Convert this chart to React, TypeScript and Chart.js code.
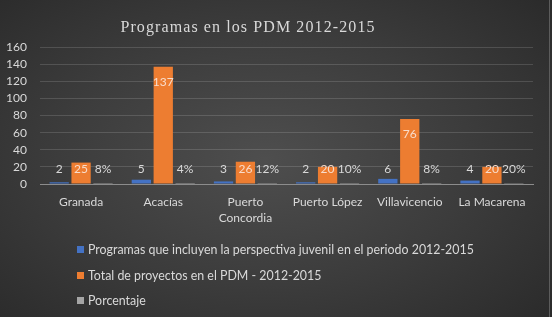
import React, { useEffect, useRef } from "react";
import { Chart, registerables } from "chart.js";

Chart.register(...registerables);

const categories: (string | string[])[] = [
  "Granada",
  "Acacías",
  ["Puerto", "Concordia"],
  "Puerto López",
  "Villavicencio",
  "La Macarena",
];
const programasJuveniles = [2, 5, 3, 2, 6, 4];
const totalProyectos = [25, 137, 26, 20, 76, 20];
const porcentaje = [0.08, 0.04, 0.12, 0.1, 0.08, 0.2];
const yTicks = [0, 20, 40, 60, 80, 100, 120, 140, 160];

const seriesNames = [
  "Programas que incluyen la perspectiva juvenil en el periodo 2012-2015",
  "Total de proyectos en el PDM - 2012-2015",
  "Porcentaje",
];
const seriesColors = ["#4472c4", "#ed7d31", "#a5a5a5"];
const titleText = "Programas en los PDM 2012-2015";

const FONT = "Lato, 'Open Sans', sans-serif";
const TEXT = "#d9d9d9";

const labelPlugin = {
  id: "valueLabels",
  afterDatasetsDraw(chart: any) {
    const ctx = chart.ctx;
    ctx.save();
    ctx.font = `12px ${FONT}`;
    ctx.textAlign = "center";
    ctx.textBaseline = "middle";
    chart.data.datasets.forEach((ds: any, di: number) => {
      const meta = chart.getDatasetMeta(di);
      meta.data.forEach((bar: any, i: number) => {
        const v = ds.data[i];
        const base = bar.base;
        let y: number;
        let text: string;
        if (di === 1) {
          y = Math.min(bar.y + 15, base - 14);
          text = String(v);
          ctx.fillStyle = "#f8dccb";
        } else {
          y = Math.min(bar.y - 9, base - 14);
          text = di === 2 ? `${Math.round(v * 100)}%` : String(v);
          ctx.fillStyle = TEXT;
        }
        ctx.fillText(text, bar.x, y);
      });
    });
    ctx.restore();
  },
};

export default function App() {
  const ref = useRef<HTMLCanvasElement | null>(null);

  useEffect(() => {
    if (!ref.current) return;
    const chart = new Chart(ref.current, {
      type: "bar",
      data: {
        labels: categories,
        datasets: [
          { label: seriesNames[0], data: programasJuveniles, backgroundColor: seriesColors[0] },
          { label: seriesNames[1], data: totalProyectos, backgroundColor: seriesColors[1] },
          { label: seriesNames[2], data: porcentaje, backgroundColor: seriesColors[2] },
        ],
      },
      options: {
        responsive: false,
        animation: false,
        devicePixelRatio: 1,
        layout: { padding: { top: 47, left: 0, right: 19, bottom: 83 } },
        datasets: { bar: { categoryPercentage: 0.8, barPercentage: 0.88 } },
        plugins: {
          legend: { display: false },
          title: { display: false },
          tooltip: { enabled: false },
        },
        scales: {
          x: {
            afterFit(scale: any) {
              scale.height = 50;
            },
            grid: { display: false, drawTicks: false },
            border: { display: true, color: "#8c8c8c", width: 1 },
            ticks: {
              color: TEXT,
              font: { family: FONT, size: 12, lineHeight: 1.33 },
              padding: 10,
              maxRotation: 0,
              autoSkip: false,
            },
          },
          y: {
            min: 0,
            max: 160,
            afterFit(scale: any) {
              scale.width = 40;
            },
            afterBuildTicks(scale: any) {
              scale.ticks = yTicks.map((v) => ({ value: v }));
            },
            grid: {
              color: "rgba(255,255,255,0.14)",
              drawTicks: false,
            },
            border: { display: false },
            ticks: {
              color: TEXT,
              font: { family: FONT, size: 12 },
              padding: 13,
              autoSkip: false,
            },
          },
        },
      },
      plugins: [labelPlugin],
    });
    return () => chart.destroy();
  }, []);

  return (
    <div
      style={{
        position: "fixed",
        left: 0,
        top: 0,
        width: 552,
        height: 317,
        overflow: "hidden",
        background:
          "radial-gradient(ellipse 75% 80% at 48% 50%, #4e4e4e 0%, #3c3c3c 50%, #282828 100%)",
      }}
    >
      <canvas
        ref={ref}
        width={552}
        height={317}
        style={{ position: "absolute", left: 0, top: 0, width: 552, height: 317 }}
      />
      <div
        style={{
          position: "absolute",
          left: 0,
          top: 17,
          width: 496,
          textAlign: "center",
          fontFamily: "'Liberation Serif', 'DejaVu Serif', serif",
          fontSize: 16,
          letterSpacing: 1.1,
          color: TEXT,
          lineHeight: "20px",
        }}
      >
        {titleText}
      </div>
      <div
        style={{
          position: "absolute",
          left: 77,
          top: 237,
          fontFamily: FONT,
          fontSize: 12.4,
          color: TEXT,
        }}
      >
        {seriesNames.map((name, i) => (
          <div
            key={name}
            style={{ display: "flex", alignItems: "center", height: 25.5, whiteSpace: "nowrap" }}
          >
            <span
              style={{
                display: "inline-block",
                width: 7,
                height: 7,
                background: seriesColors[i],
                marginRight: 4,
              }}
            />
            <span>{name}</span>
          </div>
        ))}
      </div>
      <div
        style={{
          position: "absolute",
          right: 2,
          top: 0,
          width: 1,
          height: 317,
          background: "#5c5c5c",
        }}
      />
    </div>
  );
}
